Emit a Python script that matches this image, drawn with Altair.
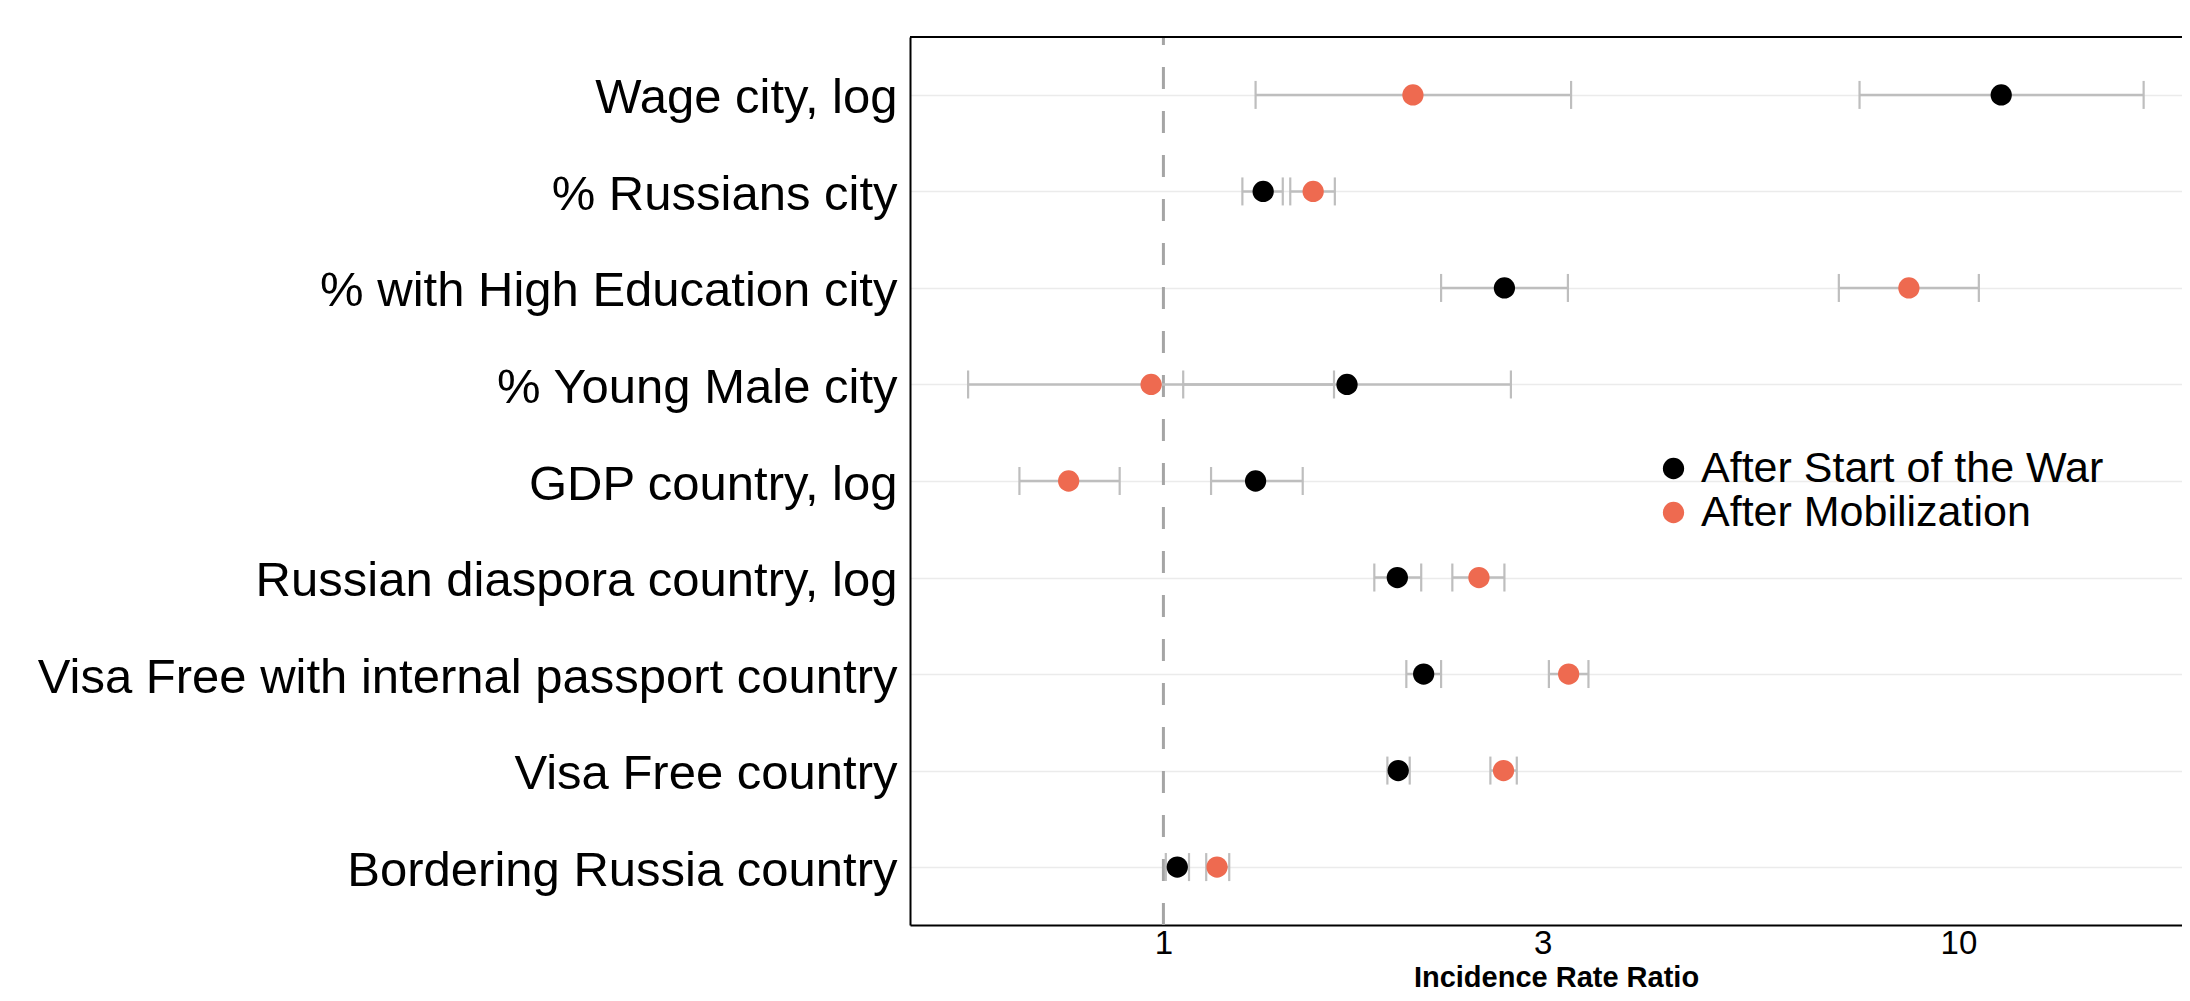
import altair as alt
import pandas as pd

# ---- data ----
variables = [
    "Wage city, log",
    "% Russians city",
    "% with High Education city",
    "% Young Male city",
    "GDP country, log",
    "Russian diaspora country, log",
    "Visa Free with internal passport country",
    "Visa Free country",
    "Bordering Russia country",
]
series = ["After Start of the War", "After Mobilization"]

war_est = [11.32, 1.335, 2.685, 1.702, 1.306, 1.969, 2.125, 1.974, 1.041]
war_lo = [7.51, 1.257, 2.235, 1.059, 1.148, 1.842, 2.021, 1.913, 1.007]
war_hi = [17.1, 1.413, 3.227, 2.736, 1.497, 2.110, 2.235, 2.041, 1.077]

mob_est = [2.06, 1.543, 8.664, 0.965, 0.760, 2.494, 3.234, 2.678, 1.168]
mob_lo = [1.306, 1.444, 7.073, 0.568, 0.659, 2.309, 3.054, 2.578, 1.132]
mob_hi = [3.257, 1.643, 10.61, 1.639, 0.881, 2.685, 3.425, 2.783, 1.210]

x_ticks = [1, 3, 10]
ref_line = [1]

rows = []
for i, v in enumerate(variables):
    rows.append(dict(variable=v, series=series[0], est=war_est[i], lo=war_lo[i], hi=war_hi[i]))
    rows.append(dict(variable=v, series=series[1], est=mob_est[i], lo=mob_lo[i], hi=mob_hi[i]))
df = pd.DataFrame(rows)

# ---- layout ----
PLOT_W = 1272
PLOT_H = 888
X_DOMAIN = [0.48, 19.11]
FONT = "Liberation Sans"

xscale = alt.Scale(type="log", domain=X_DOMAIN, nice=False)
yscale = alt.Scale(type="point", padding=0.6, domain=variables)

x_axis = alt.Axis(
    values=x_ticks,
    format="~g",
    ticks=False,
    grid=False,
    labelFontSize=33,
    labelColor="black",
    labelPadding=2,
    labelFlush=False,
    domainColor="black",
    domainWidth=2,
    title="Incidence Rate Ratio",
    titleFontSize=29,
    titleFontWeight="bold",
    titleColor="black",
    titleX=646,
    titleY=61.7,
    titleAlign="center",
    titleBaseline="alphabetic",
)
y_axis = alt.Axis(
    title=None,
    ticks=False,
    labelFontSize=49,
    labelColor="black",
    labelPadding=13,
    labelLimit=1200,
    labelOffset=3,
    grid=True,
    gridColor="#EBEBEB",
    gridWidth=1.6,
    domainColor="black",
    domainWidth=2,
)

base = alt.Chart(df)

Y = alt.Y("variable:N", sort=variables, scale=yscale, axis=y_axis)

ref = alt.Chart(pd.DataFrame({"x": ref_line})).mark_rule(
    color="#A5A5A5", strokeWidth=3, strokeDash=[22, 22]
).encode(
    x=alt.X("x:Q", scale=xscale, axis=x_axis),
    y=alt.value(PLOT_H),
    y2=alt.value(0),
)

bars = base.mark_rule(color="#BEBEBE", strokeWidth=2.5).encode(
    x=alt.X("lo:Q", scale=xscale, axis=x_axis),
    x2="hi:Q",
    y=Y,
)

caps_lo = base.mark_tick(color="#BEBEBE", size=28, thickness=2.2, opacity=1).encode(
    x=alt.X("lo:Q", scale=xscale, axis=x_axis),
    y=Y,
)
caps_hi = base.mark_tick(color="#BEBEBE", size=28, thickness=2.2, opacity=1).encode(
    x=alt.X("hi:Q", scale=xscale, axis=x_axis),
    y=Y,
)

points = base.mark_circle(size=452, opacity=1).encode(
    x=alt.X("est:Q", scale=xscale, axis=x_axis),
    y=Y,
    color=alt.Color(
        "series:N",
        sort=series,
        scale=alt.Scale(domain=series, range=["#000000", "#EE6A50"]),
        legend=alt.Legend(
            title=None,
            orient="none",
            legendX=742,
            legendY=410,
            labelFontSize=43,
            labelColor="black",
            labelFont=FONT,
            labelLimit=1000,
            symbolType="circle",
            symbolSize=452,
            symbolStrokeWidth=0,
            symbolOpacity=1,
            labelOffset=6,
            rowPadding=-5,
            padding=0,
        ),
    ),
)

frame_top = alt.Chart(pd.DataFrame({"a": [0]})).mark_rule(color="black", strokeWidth=2).encode(
    x=alt.value(0), x2=alt.value(PLOT_W), y=alt.value(0)
)

chart = (
    alt.layer(ref, bars, caps_lo, caps_hi, points, frame_top)
    .properties(
        width=PLOT_W,
        height=PLOT_H,
        autosize=alt.AutoSizeParams(type="none"),
        padding={"left": 902, "top": 29, "right": 0, "bottom": 68},
        background="white",
    )
    .configure(font=FONT)
    .configure_view(stroke=None)
)

chart.save("out.html", embed_options={"renderer": "svg", "actions": False})
